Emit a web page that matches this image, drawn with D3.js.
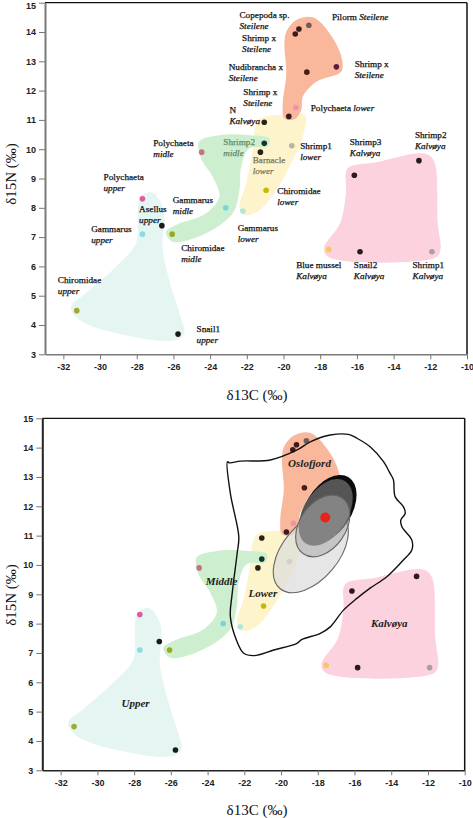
<!DOCTYPE html>
<html><head><meta charset="utf-8">
<script src="https://cdn.jsdelivr.net/npm/d3@7"></script>
<style>body{margin:0;background:#fff}</style>
</head><body><svg id="c" width="473" height="818"></svg>
<script>
// ---------- data ----------
const xTicks = [-32,-30,-28,-26,-24,-22,-20,-18,-16,-14,-12,-10];
const yTicks = [3,4,5,6,7,8,9,10,11,12,13,14,15];

const pointNames = ["Copepoda sp. Steilene","Shrimp x Steilene","Pilorm Steilene","Nudibrancha x Steilene","Shrimp x Steilene (2)","Polychaeta lower","Shrimp x Steilene (3)","N Kalvøya","Shrimp2 midle","Barnacle lower","Shrimp1 lower","Shrimp3 Kalvøya","Shrimp2 Kalvøya","Chiromidae lower","Gammarus lower","Blue mussel Kalvøya","Snail2 Kalvøya","Shrimp1 Kalvøya","Polychaeta midle","Polychaeta upper","Gammarus midle","Gammarus upper","Asellus upper","Chiromidae midle","Chiromidae upper","Snail1 upper"];
const pointD13C = [-19.16,-19.36,-18.62,-18.73,-17.12,-19.33,-19.71,-21.05,-21.05,-21.26,-19.55,-16.14,-12.62,-20.95,-22.22,-17.54,-15.83,-11.91,-24.46,-27.69,-23.15,-27.69,-26.63,-26.07,-31.27,-25.75];
const pointD15N = [14.10,13.93,14.23,12.63,12.81,11.42,11.12,10.92,10.20,9.90,10.12,9.11,9.61,8.60,7.89,6.58,6.50,6.50,9.90,8.31,8.00,7.10,7.39,7.10,4.49,3.69];
const pointColors = ["#3b1c1c","#3b1c1c","#6e5c5c","#4a1a1a","#5e1a44","#f092aa","#3b1c1c","#2a2218","#1a3326","#2a2218","#b8b4a8","#2a1a1a","#2a1a1a","#c8b800","#b0e6e0","#f8c860","#2a1a1a","#a8a0a4","#c87088","#e058a0","#78d6d8","#88dce2","#1a1a1a","#98aa20","#a0aa30","#1a1a1a"];

const labelNormal = ["Copepoda sp.","Pilorm","Shrimp x","Nudibrancha x","Shrimp x","Shrimp x","N","Polychaeta","Shrimp1","Shrimp2","Barnacle","Shrimp3","Shrimp2","Chiromidae","Polychaeta","Polychaeta","Gammarus","Asellus","Gammarus","Chiromidae","Chiromidae","Snail1","Gammarus","Blue mussel","Snail2","Shrimp1"];
const labelItalic = ["Steilene","Steilene","Steilene","Steilene","Steilene","Steilene","Kalvøya","lower","lower","midle","lower","Kalvøya","Kalvøya","lower","midle","upper","midle","upper","upper","midle","upper","upper","lower","Kalvøya","Kalvøya","Kalvøya"];
const labelInline = [false,true,false,false,false,false,false,true,false,false,false,false,false,false,false,false,false,false,false,false,false,false,false,false,false,false];
const labelD13C = [-22.40,-17.36,-22.26,-22.99,-16.12,-22.19,-22.95,-18.52,-19.09,-23.28,-21.68,-16.39,-12.84,-20.34,-27.10,-29.81,-26.04,-27.87,-30.48,-25.58,-32.30,-24.74,-22.50,-19.31,-16.17,-12.97];
const labelD15N = [14.60,14.52,13.81,12.82,12.90,11.96,11.34,11.42,10.11,10.26,9.63,10.26,10.48,8.57,10.22,9.06,8.27,7.96,7.30,6.64,5.56,3.86,7.33,6.05,6.05,6.05];
const labelColors = labelNormal.map((d,i)=> i===9 ? "#5f8a6c" : (i===10 ? "#7d7560" : "#111"));

const upperHull = [[-27.81,8.38],[-27.14,8.52],[-26.60,8.04],[-26.50,7.53],[-26.60,6.67],[-26.23,5.54],[-25.68,4.41],[-25.41,3.72],[-25.87,3.49],[-28.23,3.60],[-31.13,4.17],[-31.59,4.62],[-30.77,5.08],[-29.32,5.88],[-28.04,6.79],[-27.95,7.70]];
const middleHull = [[-24.59,10.26],[-23.50,10.48],[-21.86,10.48],[-20.77,10.37],[-20.86,10.09],[-21.86,10.03],[-22.31,9.40],[-22.40,8.61],[-22.77,7.81],[-24.22,7.13],[-26.04,6.84],[-26.41,7.18],[-25.86,7.41],[-24.22,7.81],[-23.50,8.38],[-23.86,9.06],[-24.50,9.69]];
const lowerHull = [[-21.31,11.05],[-20.22,11.17],[-18.85,11.17],[-18.95,10.43],[-19.67,9.40],[-20.40,8.61],[-21.31,7.92],[-22.13,7.75],[-22.40,8.04],[-22.04,8.83],[-21.68,9.97],[-21.58,10.66]];
const oslofjordHull = [[-19.85,14.01],[-19.30,14.41],[-18.40,14.50],[-17.49,13.96],[-16.85,13.16],[-16.85,12.65],[-18.21,12.30],[-18.95,11.79],[-19.03,11.34],[-19.40,11.02],[-19.95,11.05],[-20.04,11.57],[-19.85,12.56],[-19.95,13.61]];
const kalvoyaHull = [[-16.5,9.35],[-15.0,9.55],[-12.3,9.85],[-11.8,9.6],[-11.6,7.5],[-11.45,6.55],[-11.7,6.3],[-17.5,6.3],[-17.8,6.6],[-16.9,7.5],[-16.6,8.5]];

const outlineRegion = [[-22.92,13.52],[-22.76,12.44],[-22.30,10.96],[-22.39,10.40],[-22.66,9.03],[-22.76,8.24],[-22.43,7.44],[-22.03,6.99],[-21.49,6.91],[-20.40,7.10],[-19.13,7.33],[-18.86,7.46],[-17.86,7.67],[-17.32,7.89],[-16.60,8.46],[-15.87,8.86],[-15.15,9.21],[-14.24,9.60],[-13.34,10.17],[-12.88,10.51],[-12.88,10.85],[-13.42,11.30],[-13.48,11.53],[-13.24,11.76],[-13.34,11.99],[-13.79,12.33],[-13.88,12.90],[-14.06,13.12],[-14.42,13.52],[-15.15,14.03],[-15.87,14.32],[-16.33,14.45],[-17.32,14.43],[-18.41,14.20],[-19.13,13.92],[-20.58,13.58],[-22.21,13.54],[-22.80,13.48]];

// ellipses: centre (d13C, d15N), semi-axes in ‰ (δ13C units), tilt in degrees
const ellipseD13C = [-18.38,-17.40,-17.57,-17.73];
const ellipseD15N = [10.45,11.91,11.79,11.33];
const ellipseA = [2.61,2.04,2.01,1.85];
const ellipseB = [1.52,1.25,1.20,1.25];
const ellipseTilt = [50,58,58,55];
const meanD13C = [-17.59];
const meanD15N = [11.62];

const groupNames = ["Oslofjord","Middle","Lower","Upper","Kalvøya"];
const groupD13C = [-18.45,-23.24,-20.99,-27.92,-14.11];
const groupD15N = [13.47,9.46,9.03,5.28,8.01];

// ---------- styles ----------
const hullFill = {upper:"#e5f5f1", lower:"#fdf4cc", middle:"#cdefcf", kalv:"#fcd2de", oslo:"#f9b89c"};
const ellipseFill = ["#dcdcdc","#0c0c0c","#555555","#aaaaaa"];
const ellipseOpacity = [0.7,1,1,0.55];

const svg = d3.select("#c");
const serif = "'Liberation Serif','Times New Roman',serif";
const sans = "'Liberation Sans',Arial,sans-serif";

function panel(box, opts){
  const g = svg.append("g");
  const x = d3.scaleLinear().domain([-33,-10]).range([box.x0, box.x1]);
  const y = d3.scaleLinear().domain([3,15]).range([box.y1, box.y0]);
  const blob = d3.line().x(d=>x(d[0])).y(d=>y(d[1])).curve(d3.curveCatmullRomClosed.alpha(0.5));
  const hulls = [[upperHull,hullFill.upper],[lowerHull,hullFill.lower],[middleHull,hullFill.middle],[kalvoyaHull,hullFill.kalv],[oslofjordHull,hullFill.oslo]];
  g.selectAll("path.hull").data(hulls).join("path").attr("class","hull")
    .attr("d", d=>blob(d[0])).attr("fill", d=>d[1]).attr("stroke","none");

  if (opts.labels){
    const lab = g.append("g").attr("font-family",serif).attr("font-size",9.2);
    labelNormal.forEach((t,i)=>{
      const tx = lab.append("text").attr("x",x(labelD13C[i])).attr("y",y(labelD15N[i])).attr("dy","0.35em")
        .attr("fill",labelColors[i]).attr("stroke",labelColors[i]).attr("stroke-width",0.25);
      if (labelInline[i]){
        tx.append("tspan").text(t+" ");
        tx.append("tspan").attr("font-style","italic").text(labelItalic[i]);
      } else {
        tx.text(t);
        lab.append("text").attr("x",x(labelD13C[i])).attr("y",y(labelD15N[i])+11).attr("dy","0.35em")
          .attr("font-style","italic").attr("fill",labelColors[i]).attr("stroke",labelColors[i]).attr("stroke-width",0.25).text(labelItalic[i]);
      }
    });
  }

  g.selectAll("circle.pt").data(pointD13C).join("circle").attr("class","pt")
    .attr("cx",(d)=>x(d)).attr("cy",(d,i)=>y(pointD15N[i])).attr("r",2.8)
    .attr("fill",(d,i)=>pointColors[i]);

  if (opts.extra){
    const lin = d3.line().x(d=>x(d[0])).y(d=>y(d[1])).curve(d3.curveCatmullRomClosed.alpha(0.5));
    g.append("path").attr("d",lin(outlineRegion)).attr("fill","none").attr("stroke","#111").attr("stroke-width",1.4);
    const k = x(1)-x(0);
    ellipseD13C.forEach((c,i)=>{
      g.append("ellipse").attr("cx",0).attr("cy",0).attr("rx",ellipseA[i]*k).attr("ry",ellipseB[i]*k)
        .attr("transform",`translate(${x(c)},${y(ellipseD15N[i])}) rotate(${-ellipseTilt[i]})`)
        .attr("fill",ellipseFill[i]).attr("fill-opacity",ellipseOpacity[i])
        .attr("stroke", i===0||i===3 ? "#666" : "none").attr("stroke-width",1.1);
    });
    g.selectAll("circle.mean").data(meanD13C).join("circle").attr("class","mean")
      .attr("cx",d=>x(d)).attr("cy",(d,i)=>y(meanD15N[i])).attr("r",5).attr("fill","#e8231a");
    g.selectAll("text.grp").data(groupNames).join("text").attr("class","grp")
      .attr("x",(d,i)=>x(groupD13C[i])).attr("y",(d,i)=>y(groupD15N[i])).attr("dy","0.35em")
      .attr("text-anchor","middle").attr("font-family",serif).attr("font-style","italic").attr("font-weight","bold")
      .attr("font-size",11).attr("fill","#222").text(d=>d);
  }

  // frame top/right
  g.append("line").attr("x1",box.x0).attr("x2",box.x1).attr("y1",box.y0).attr("y2",box.y0).attr("stroke","#111").attr("stroke-width",1.3);
  g.append("line").attr("x1",box.x1).attr("x2",box.x1).attr("y1",box.y0).attr("y2",box.y1).attr("stroke","#111").attr("stroke-width",1.5);

  const ax = g.append("g").attr("transform",`translate(0,${box.y1})`)
    .call(d3.axisBottom(x).tickValues(xTicks).tickSize(5).tickSizeOuter(0).tickPadding(4).tickFormat(d=>String(d)));
  const ay = g.append("g").attr("transform",`translate(${box.x0},0)`)
    .call(d3.axisLeft(y).tickValues(yTicks).tickSize(6).tickSizeOuter(0).tickPadding(3).tickFormat(d=>String(d)));
  [ax,ay].forEach(a=>{
    a.selectAll("text").attr("font-family",sans).attr("font-weight","bold").attr("font-size",9).attr("fill","#222");
    a.selectAll(".tick line").attr("stroke","#777");
  });
  if (box.y0 < 6) ay.selectAll(".tick text").filter(d=>d===15).attr("dy","0.62em");
  ax.select(".domain").attr("stroke",opts.axisCol).attr("stroke-width",1.6);
  ay.select(".domain").attr("stroke",opts.axisCol).attr("stroke-width",2);

  g.append("text").attr("x",257).attr("y",box.xTitleY).attr("dy","0.35em").attr("text-anchor","middle")
    .attr("font-family",serif).attr("font-size",15).attr("fill","#111").text("δ13C (‰)");
  g.append("text").attr("transform",`translate(11,${box.yTitleY}) rotate(-90)`).attr("dy","0.35em").attr("text-anchor","middle")
    .attr("font-family",serif).attr("font-size",15).attr("fill","#111").text("δ15N (‰)");
}

panel({x0:45,x1:467,y0:2.7,y1:354.3,xTitleY:395,yTitleY:174},{labels:true,extra:false,axisCol:"#7a7a7a"});
panel({x0:42.3,x1:464.7,y0:418.3,y1:770.3,xTitleY:810,yTitleY:595},{labels:false,extra:true,axisCol:"#222"});
</script></body></html>
